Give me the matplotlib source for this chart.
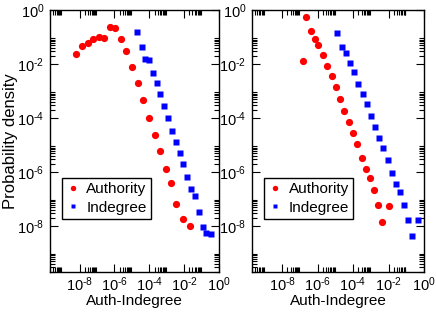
import numpy as np
import matplotlib
matplotlib.use("Agg")
import matplotlib.pyplot as plt

plt.rcParams['font.family'] = ['Liberation Sans', 'DejaVu Sans']
plt.rcParams['mathtext.fontset'] = 'custom'
plt.rcParams['mathtext.rm'] = 'Liberation Sans'
plt.rcParams['mathtext.it'] = 'Liberation Sans:italic'

# left panel (log10 values)
authL_x = [-8.21, -7.89, -7.54, -7.21, -6.89, -6.58, -6.25, -5.95, -5.63, -5.32, -4.98,
           -4.67, -4.35, -4.02, -3.70, -3.39, -3.05, -2.74, -2.46, -2.07, -1.68]
authL_y = [-1.64, -1.33, -1.22, -1.09, -1.00, -1.03, -0.62, -0.66, -1.07, -1.52, -2.10,
           -2.69, -3.35, -4.00, -4.62, -5.21, -5.90, -6.41, -7.19, -7.76, -7.99]
indL_x = [-4.70, -4.42, -4.23, -4.04, -3.79, -3.58, -3.38, -3.14, -2.93, -2.70, -2.49,
          -2.25, -2.05, -1.81, -1.59, -1.37, -1.14, -0.93, -0.72, -0.44]
indL_y = [-0.83, -1.36, -1.81, -1.86, -2.35, -2.70, -3.10, -3.54, -4.01, -4.47, -4.88,
          -5.30, -5.71, -6.18, -6.65, -6.89, -7.47, -8.04, -8.25, -8.30]

# right panel
authR_x = [-6.81, -6.65, -6.35, -6.17, -5.95, -5.70, -5.46, -5.21, -4.96, -4.74, -4.49,
           -4.25, -4.00, -3.77, -3.51, -3.28, -3.04, -2.83, -2.58, -2.35, -1.98]
authR_y = [-1.89, -0.25, -0.78, -1.07, -1.28, -1.67, -2.07, -2.46, -2.87, -3.29, -3.73,
           -4.14, -4.55, -4.97, -5.47, -5.88, -6.22, -6.67, -7.22, -7.84, -7.28]
indR_x = [-4.93, -4.65, -4.41, -4.17, -3.93, -3.70, -3.46, -3.23, -3.00, -2.77, -2.53,
          -2.30, -2.05, -1.83, -1.58, -1.35, -1.12, -0.89, -0.67, -0.32]
indR_y = [-0.85, -1.36, -1.58, -1.98, -2.30, -2.73, -3.11, -3.49, -3.93, -4.33, -4.75,
          -5.13, -5.57, -6.03, -6.45, -6.76, -7.22, -7.77, -8.36, -7.80]

major = [-8, -6, -4, -2, 0]
minor = [np.log10(k) + m for m in [-10, -8, -6, -4, -2] for k in range(2, 10)]


def lab(m):
    if m < 0:
        return r'$\mathregular{10^{\text{-}%d}}$' % (-m)
    return r'$\mathregular{10^{%d}}$' % m


fig = plt.figure(figsize=(4.36, 3.13), dpi=100)
axL = fig.add_axes([0.1147, 0.132, 0.3876, 0.836])
axR = fig.add_axes([0.578, 0.132, 0.3945, 0.836])

panels = [(axL, authL_x, authL_y, indL_x, indL_y), (axR, authR_x, authR_y, indR_x, indR_y)]
for ax, ax_, ay_, ix_, iy_ in panels:
    ax.plot(10.0**np.array(ax_), 10.0**np.array(ay_), 'o', color='#ff0000', ms=5.2,
            mec='none', label='Authority')
    ax.plot(10.0**np.array(ix_), 10.0**np.array(iy_), 's', color='#0000ff', ms=4.5,
            mec='none', label='Indegree')
    ax.set_xscale('log')
    ax.set_yscale('log')
    ax.set_xlim(1e-9, 1e0)
    ax.set_ylim(1e-9, 1e0)
    ax.set_xticks([10.0**m for m in major])
    ax.set_xticklabels([lab(m) for m in major])
    ax.set_yticks([10.0**m for m in major])
    ax.set_yticklabels([lab(m) for m in major])
    ax.set_xticks([10.0**m for m in minor if m < 0], minor=True)
    ax.set_yticks([10.0**m for m in minor if m < 0], minor=True)
    ax.xaxis.set_minor_formatter(plt.NullFormatter())
    ax.yaxis.set_minor_formatter(plt.NullFormatter())
    ax.tick_params(which='both', direction='in', top=True, right=True, labelsize=10.5, width=0.8)
    ax.tick_params(which='major', length=6)
    ax.tick_params(which='minor', length=3.5)
    ax.tick_params(axis='x', pad=3)
    ax.tick_params(axis='y', pad=4)
    for s in ax.spines.values():
        s.set_linewidth(1.0)
    ax.set_xlabel('Auth-Indegree', fontsize=11, labelpad=0)
    leg = ax.legend(loc='lower left', bbox_to_anchor=(0.07, 0.2), fontsize=11,
                    fancybox=False, framealpha=1, edgecolor='black', markerscale=0.75,
                    handlelength=0.8, handletextpad=0.5, borderpad=0.3, labelspacing=0.3,
                    borderaxespad=0)
    leg.get_frame().set_linewidth(1.0)

axL.set_ylabel('Probability density', fontsize=12, va='center')
axL.yaxis.set_label_coords(-0.232, 0.5)

fig.savefig('out.png', dpi=100)
